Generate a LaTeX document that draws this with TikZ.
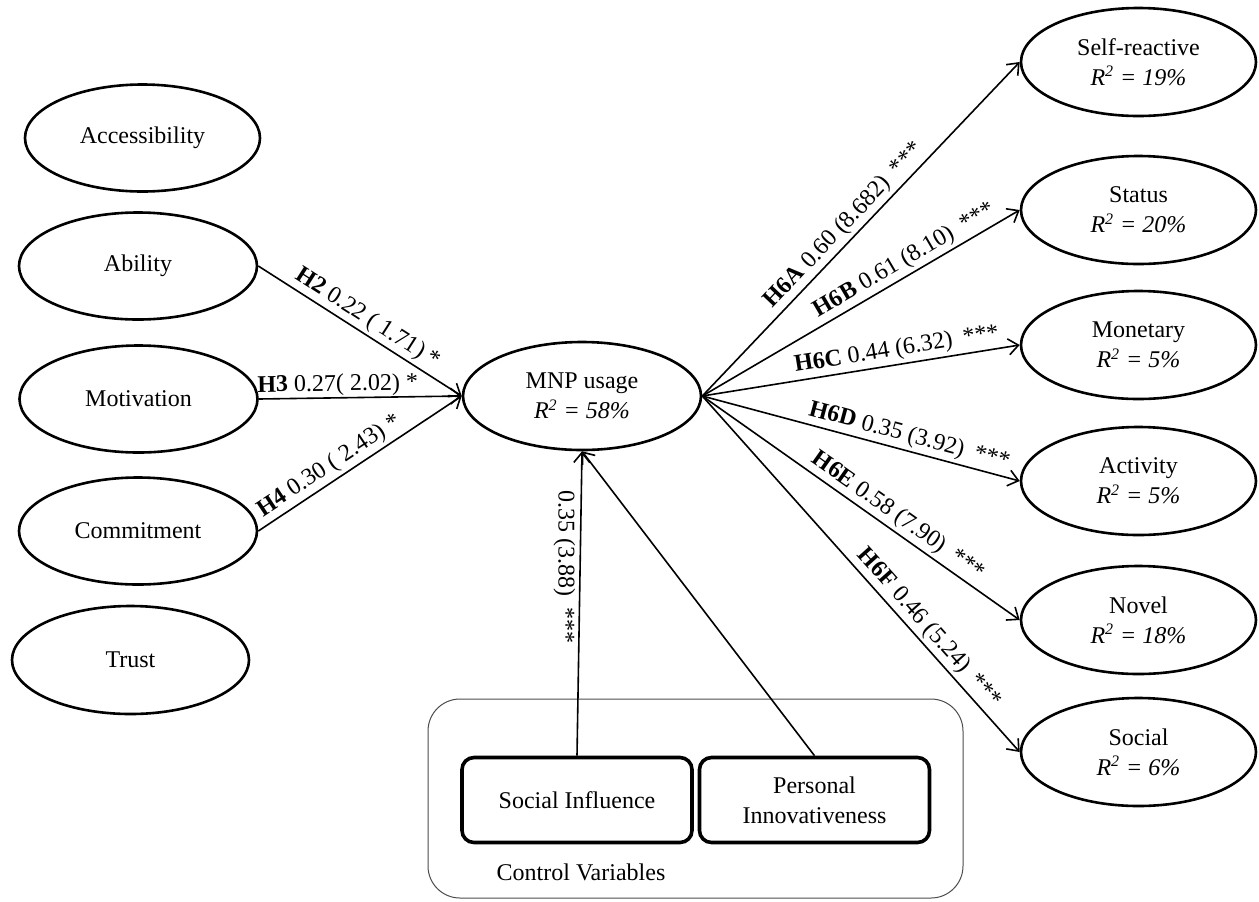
\documentclass[tikz,border=0pt]{standalone}
\usepackage{fontspec}
\setmainfont{Liberation Serif}
\usetikzlibrary{arrows.meta,shapes.geometric}
\newcommand\sigstars{\hspace{0.45em}***}
\begin{document}
\begin{tikzpicture}[x=0.5pt,y=-0.5pt,
  lat/.style={ellipse, draw, line width=1.3pt, fill=white, minimum width=119pt, minimum height=53.5pt, inner sep=0pt, align=center, font=\fontsize{12}{15}\selectfont},
  rlat/.style={lat, minimum width=117.5pt, minimum height=54pt},
  ctlbox/.style={rectangle, draw, line width=1.8pt, rounded corners=6pt, minimum width=115pt, minimum height=42.5pt, inner sep=0pt, align=center, font=\fontsize{12}{15}\selectfont},
  grpbox/.style={rectangle, draw=black!70, line width=0.5pt, rounded corners=16pt, minimum width=267.5pt, minimum height=99.5pt, inner sep=0pt},
  arr/.style={-{Straight Barb[length=5pt,width=8pt]}, line width=0.8pt},
  lab/.style={sloped, above, inner sep=1.5pt, font=\fontsize{12}{14}\selectfont}
]
\useasboundingbox (0,0) rectangle (1259,901);

% group box
\node[grpbox] (cv) at (695.5,798.5) {};
\node[font=\fontsize{12}{14}\selectfont] (cvlab) at (581,872) {Control Variables};
\node[ctlbox] (si) at (577,800) {Social Influence};
\node[ctlbox] (pi) at (814.5,800) {Personal\\Innovativeness};

% left constructs
\node[lat, minimum width=117.5pt] (acc) at (142.5,138) {Accessibility};
\node[lat] (abi) at (138,266) {Ability};
\node[lat] (mot) at (138.5,399) {Motivation};
\node[lat] (com) at (138,531) {Commitment};
\node[lat, minimum width=118.5pt, minimum height=54pt] (tru) at (130.5,660) {Trust};

% central
\node[lat, minimum height=54pt] (mnp) at (582,396) {MNP usage\\\textit{R\textsuperscript{2} = 58\%}};

% right constructs
\node[rlat] (sr) at (1138.5,62) {Self-reactive\\\textit{R\textsuperscript{2} = 19\%}};
\node[rlat] (st) at (1138.5,210) {Status\\\textit{R\textsuperscript{2} = 20\%}};
\node[rlat] (mo) at (1138.5,345) {Monetary\\\textit{R\textsuperscript{2} = 5\%}};
\node[rlat] (ac) at (1138.5,481) {Activity\\\textit{R\textsuperscript{2} = 5\%}};
\node[rlat] (no) at (1138.5,620) {Novel\\\textit{R\textsuperscript{2} = 18\%}};
\node[rlat] (so) at (1138.5,752) {Social\\\textit{R\textsuperscript{2} = 6\%}};

% left paths
\draw[arr] (abi.east) -- node[lab, pos=0.5] {\textbf{H2} 0.22 ( 1.71) *} (mnp.west);
\draw[arr] (mot.east) -- node[lab, pos=0.39, inner sep=0.5pt] {\textbf{H3} 0.27( 2.02) *} (mnp.west);
\draw[arr] (com.east) -- node[lab, pos=0.39] {\textbf{H4} 0.30 ( 2.43) *} (mnp.west);

% right paths
\draw[arr] (mnp.east) -- node[lab, pos=0.48] {\textbf{H6A} 0.60 (8.682)\sigstars} (sr.west);
\draw[arr] (mnp.east) -- node[lab, pos=0.66] {\textbf{H6B} 0.61 (8.10)\sigstars} (st.west);
\draw[arr] (mnp.east) -- node[lab, pos=0.62] {\textbf{H6C} 0.44 (6.32)\sigstars} (mo.west);
\draw[arr] (mnp.east) -- node[lab, pos=0.64] {\textbf{H6D} 0.35 (3.92)\sigstars} (ac.west);
\draw[arr] (mnp.east) -- node[lab, pos=0.59] {\textbf{H6E} 0.58 (7.90)\sigstars} (no.west);
\draw[arr] (mnp.east) -- node[lab, pos=0.68] {\textbf{H6F} 0.46 (5.24)\sigstars} (so.west);

% control paths
\draw[arr] (si.north) -- node[pos=0.62, rotate=-90, anchor=north, inner sep=2pt, font=\fontsize{12}{14}\selectfont] {0.35 (3.88)\sigstars} (mnp.south);
\draw[arr] (pi.north) -- (mnp.south);
\end{tikzpicture}
\end{document}
